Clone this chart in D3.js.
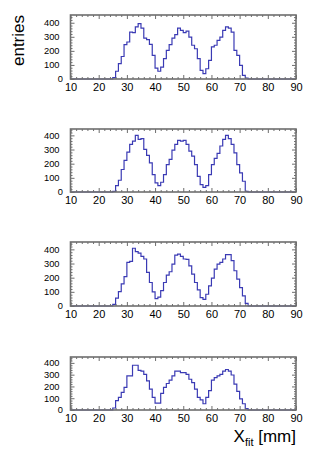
<!DOCTYPE html>
<html>
<head>
<meta charset="utf-8">
<script src="https://cdn.jsdelivr.net/npm/d3@7"></script>
<style>
  html, body { margin: 0; padding: 0; background: #fff; }
  svg { display: block; font-family: "Liberation Sans", Arial, sans-serif; }
</style>
</head>
<body>
<div id="chart"></div>
<script>
// Histogram data: 1 mm bins from 10 to 90 mm, counts given from firstBin on, zero elsewhere
const xDomain = [10, 90];
const firstBin = 25;
const xMajorTicks = [10, 20, 30, 40, 50, 60, 70, 80, 90];
const yMajorTicks = [0, 100, 200, 300, 400];

const counts1 = [10, 55, 110, 160, 245, 263, 333, 330, 370, 393, 362, 290, 280, 246, 168, 78,
  55, 85, 145, 204, 244, 290, 315, 362, 346, 330, 340, 298, 240, 215, 145, 62,
  38, 73, 133, 228, 240, 275, 298, 346, 370, 362, 333, 204, 168, 97, 26, 7];
const counts2 = [5, 45, 83, 159, 223, 282, 336, 360, 400, 372, 377, 301, 258, 206, 123, 64,
  45, 69, 123, 194, 230, 296, 336, 365, 360, 365, 336, 289, 253, 194, 111, 52,
  33, 45, 123, 194, 237, 273, 325, 372, 400, 377, 336, 277, 194, 135, 76, 5];
const counts3 = [12, 55, 102, 156, 208, 308, 315, 408, 384, 374, 350, 332, 237, 166, 100, 52,
  62, 109, 166, 218, 242, 296, 360, 367, 350, 332, 329, 284, 225, 166, 114, 59,
  47, 83, 142, 197, 261, 296, 308, 332, 363, 363, 320, 249, 190, 130, 71, 19];
const counts4 = [17, 80, 108, 150, 192, 289, 289, 380, 380, 336, 330, 303, 247, 178, 108, 58,
  58, 142, 192, 225, 253, 289, 330, 330, 317, 317, 303, 261, 233, 178, 108, 86,
  53, 108, 164, 253, 275, 289, 303, 330, 344, 330, 297, 219, 158, 94, 53, 11];

const panels = [
  { counts: counts1, top: 15, bottom: 79, ymax: 455 },
  { counts: counts2, top: 129, bottom: 192, ymax: 445 },
  { counts: counts3, top: 242, bottom: 306, ymax: 452 },
  { counts: counts4, top: 357, bottom: 410, ymax: 450 },
];

const W = 332, H = 455;
const left = 70.5, right = 296;
const frameColor = '#6e6e6e';
const histColor = '#3a3ab4';

const svg = d3.select('#chart').append('svg')
  .attr('width', W).attr('height', H)
  .attr('viewBox', [0, 0, W, H]);

const x = d3.scaleLinear().domain(xDomain).range([left, right]);
const xMinor = d3.range(10, 91, 2).filter(v => v % 10 !== 0);
const yMinor = d3.range(0, 460, 20).filter(v => v % 100 !== 0);

function fullBins(counts) {
  const bins = [];
  for (let b = xDomain[0]; b < xDomain[1]; b++) {
    const i = b - firstBin;
    bins.push({ x0: b, x1: b + 1, n: (i >= 0 && i < counts.length) ? counts[i] : 0 });
  }
  return bins;
}

function styleAxis(g) {
  g.select('.domain').remove();
  g.selectAll('.tick line').attr('stroke', frameColor).attr('stroke-width', 1);
}

panels.forEach(p => {
  const y = d3.scaleLinear().domain([0, p.ymax]).range([p.bottom, p.top]);
  const g = svg.append('g');

  // histogram as a step line
  const bins = fullBins(p.counts);
  const pts = [[x(bins[0].x0), y(0)]];
  bins.forEach(d => { pts.push([x(d.x0), y(d.n)]); pts.push([x(d.x1), y(d.n)]); });
  pts.push([x(bins[bins.length - 1].x1), y(0)]);
  g.append('path')
    .attr('d', d3.line()(pts))
    .attr('fill', 'none')
    .attr('stroke', histColor)
    .attr('stroke-width', 1.2);

  // ticks: bottom with labels, top / right without
  g.append('g').attr('transform', `translate(0,${p.bottom})`)
    .call(d3.axisBottom(x).tickValues(xMajorTicks).tickSizeInner(-4).tickSizeOuter(0).tickPadding(3.7))
    .call(styleAxis)
    .call(a => a.selectAll('text').attr('font-size', 11).attr('fill', '#000').attr('font-family', null));
  g.append('g').attr('transform', `translate(0,${p.bottom})`)
    .call(d3.axisBottom(x).tickValues(xMinor).tickSizeInner(-2).tickSizeOuter(0).tickFormat(''))
    .call(styleAxis);
  g.append('g').attr('transform', `translate(0,${p.top})`)
    .call(d3.axisTop(x).tickValues(xMajorTicks).tickSizeInner(-4).tickSizeOuter(0).tickFormat(''))
    .call(styleAxis);
  g.append('g').attr('transform', `translate(0,${p.top})`)
    .call(d3.axisTop(x).tickValues(xMinor).tickSizeInner(-2).tickSizeOuter(0).tickFormat(''))
    .call(styleAxis);

  g.append('g').attr('transform', `translate(${left},0)`)
    .call(d3.axisLeft(y).tickValues(yMajorTicks).tickSizeInner(-4).tickSizeOuter(0).tickPadding(11))
    .call(styleAxis)
    .call(a => a.selectAll('text').attr('font-size', 9.3).attr('fill', '#000').attr('font-family', null)
      .attr('dx', d => d === 0 ? 3.5 : 0));
  g.append('g').attr('transform', `translate(${left},0)`)
    .call(d3.axisLeft(y).tickValues(yMinor).tickSizeInner(-2).tickSizeOuter(0).tickFormat(''))
    .call(styleAxis);
  g.append('g').attr('transform', `translate(${right},0)`)
    .call(d3.axisRight(y).tickValues(yMajorTicks).tickSizeInner(-4).tickSizeOuter(0).tickFormat(''))
    .call(styleAxis);
  g.append('g').attr('transform', `translate(${right},0)`)
    .call(d3.axisRight(y).tickValues(yMinor).tickSizeInner(-2).tickSizeOuter(0).tickFormat(''))
    .call(styleAxis);

  // frame
  g.append('rect')
    .attr('x', left).attr('y', p.top)
    .attr('width', right - left).attr('height', p.bottom - p.top)
    .attr('fill', 'none')
    .attr('stroke', frameColor)
    .attr('stroke-width', 1.6);
});

// axis titles
svg.append('text')
  .attr('transform', 'translate(23.5,15) rotate(-90)')
  .attr('text-anchor', 'end')
  .attr('font-size', 17)
  .text('entries');

const xt = svg.append('text')
  .attr('x', right).attr('y', 441.7)
  .attr('text-anchor', 'end')
  .attr('font-size', 17);
xt.append('tspan').text('X');
xt.append('tspan').attr('font-size', 11).attr('dy', 4).text('fit');
xt.append('tspan').attr('dy', -4).text(' [mm]');
</script>
</body>
</html>
